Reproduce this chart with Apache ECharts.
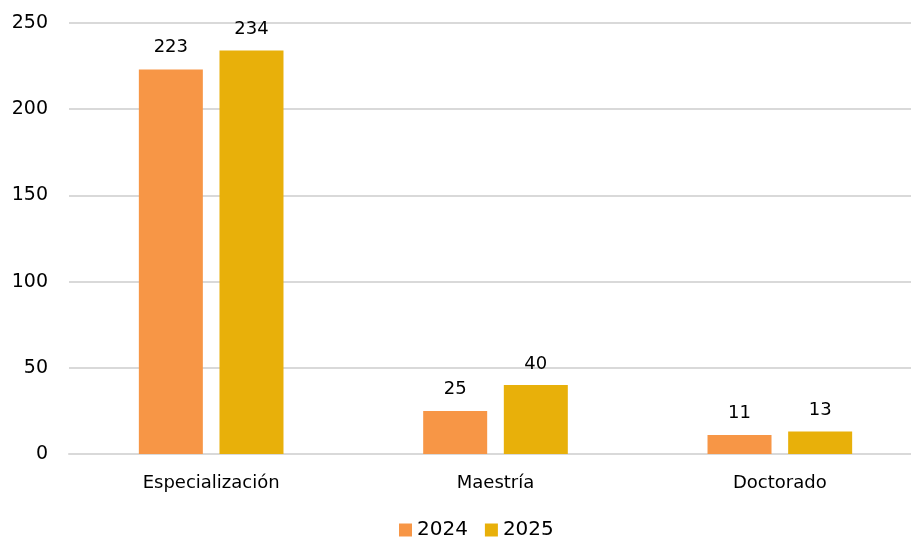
<!DOCTYPE html>
<html><head><meta charset="utf-8">
<script src="https://cdn.jsdelivr.net/npm/echarts@6/dist/echarts.min.js"></script>
<style>html,body{margin:0;padding:0;background:#fff}#c{width:911px;height:541px}</style>
</head><body><div id="c"></div>
<script>
const categories = ['Especialización', 'Maestría', 'Doctorado'];
const seriesNames = ['2024', '2025'];
const values2024 = [223, 25, 11];
const values2025 = [234, 40, 13];
const yTicks = [0, 50, 100, 150, 200, 250];

const font = '"DejaVu Sans", sans-serif';
const chart = echarts.init(document.getElementById('c'), null, {renderer: 'canvas'});
chart.setOption({
  animation: false,
  grid: {left: 69, width: 853, top: 23, bottom: 87, containLabel: false, outerBoundsMode: 'none'},
  legend: {
    data: seriesNames, top: 520, left: 399, padding: 0, itemWidth: 13, itemHeight: 13, itemGap: 17,
    icon: 'rect', textStyle: {fontSize: 20, color: '#000', fontFamily: font}
  },
  xAxis: {
    type: 'category', data: categories,
    axisLine: {lineStyle: {color: '#D9D9D9', width: 2}},
    axisTick: {show: false},
    axisLabel: {fontSize: 18, color: '#000', fontFamily: font, margin: 20}
  },
  yAxis: {
    type: 'value', min: yTicks[0], max: yTicks[yTicks.length - 1], interval: 50,
    axisLine: {show: false}, axisTick: {show: false},
    splitLine: {lineStyle: {color: '#D9D9D9', width: 2}},
    axisLabel: {fontSize: 19, color: '#000', fontFamily: font, margin: 21}
  },
  series: [
    {name: seriesNames[0], type: 'bar', data: values2024, barWidth: 64, barGap: '26%',
     itemStyle: {color: '#F79646'},
     label: {show: true, position: 'top', distance: 13, fontSize: 18, color: '#000', fontFamily: font}},
    {name: seriesNames[1], type: 'bar', data: values2025, barWidth: 64,
     itemStyle: {color: '#E8B00A'},
     label: {show: true, position: 'top', distance: 12, fontSize: 18, color: '#000', fontFamily: font}}
  ]
});
</script></body></html>
